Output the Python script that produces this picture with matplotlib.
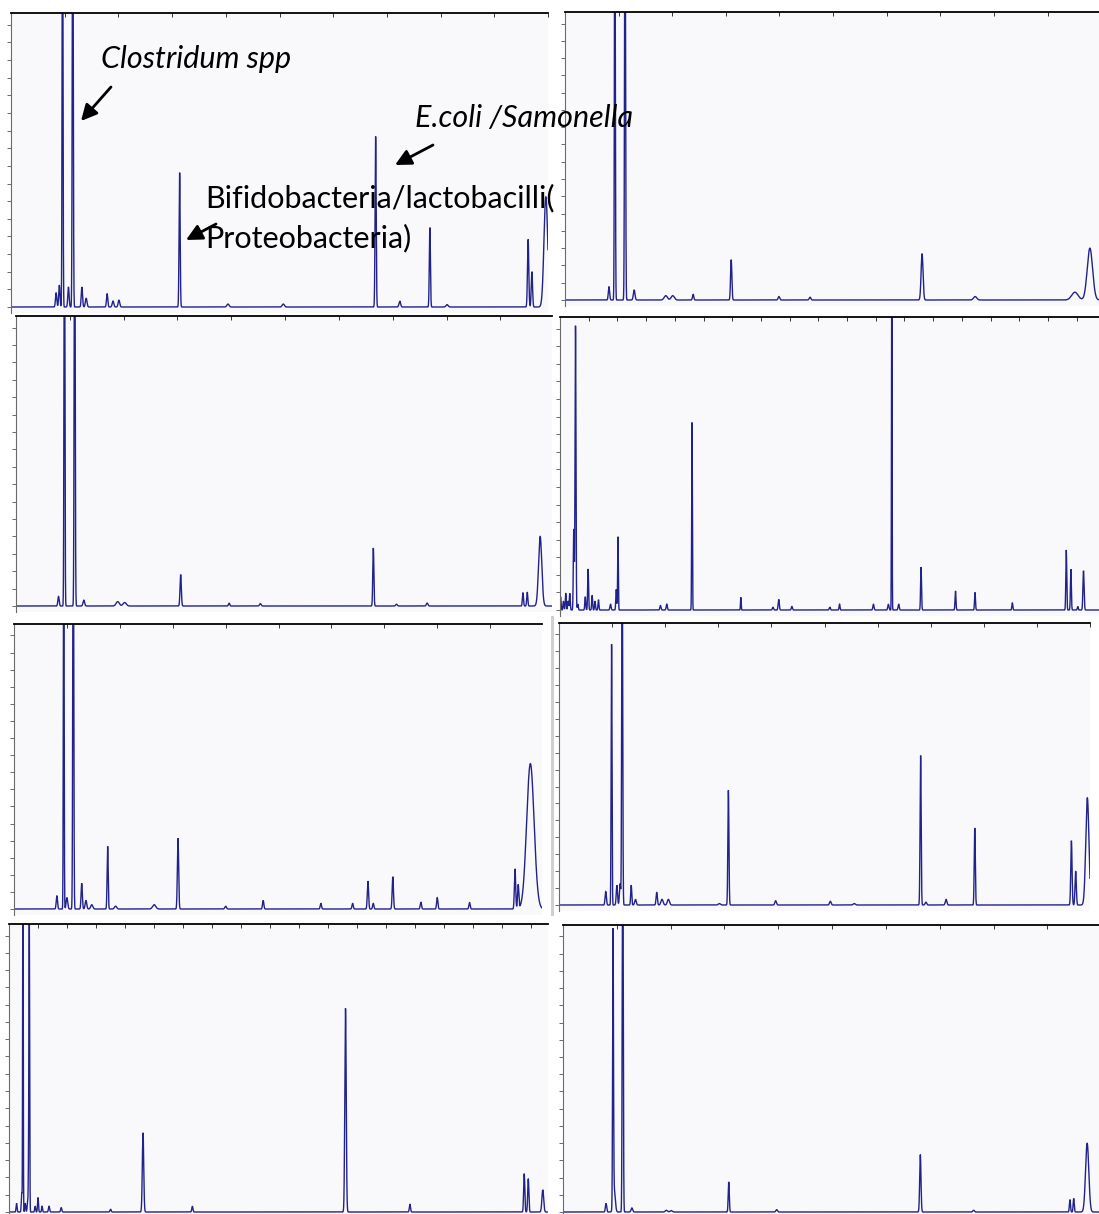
import numpy as np
import matplotlib.pyplot as plt
from matplotlib.ticker import MultipleLocator, NullFormatter
from matplotlib.patches import Rectangle
from matplotlib.text import Annotation

# Peak tables (retention time in min,
# relative height, peak sigma in min). Heights above 1 run off the top.
rt_1 = [0.84, 0.90, 0.96, 1.07, 1.15, 1.32, 1.40, 1.79, 1.90, 2.01, 3.14, 4.04, 5.07,
        6.79, 7.24, 7.80, 8.12, 9.63, 9.70, 9.96]
ht_1 = [0.048, 0.074, 1.6, 0.068, 1.6, 0.068, 0.03, 0.045, 0.02, 0.023, 0.457, 0.01, 0.01,
        0.58, 0.02, 0.27, 0.008, 0.23, 0.12, 0.375]
sd_1 = [0.012, 0.012, 0.008, 0.012, 0.009, 0.012, 0.015, 0.012, 0.015, 0.015, 0.010, 0.02, 0.02,
        0.010, 0.015, 0.010, 0.02, 0.012, 0.012, 0.035]

rt_2 = [0.82, 0.93, 1.12, 1.29, 1.88, 2.01, 2.39, 3.10, 3.99, 4.57, 6.66, 7.65, 9.51, 9.79]
ht_2 = [0.046, 1.6, 1.6, 0.035, 0.015, 0.015, 0.02, 0.14, 0.012, 0.01, 0.16, 0.012, 0.027, 0.18]
sd_2 = [0.012, 0.008, 0.009, 0.015, 0.03, 0.03, 0.012, 0.012, 0.015, 0.015, 0.018, 0.03, 0.06, 0.05]

rt_3 = [0.79, 0.90, 1.09, 1.26, 1.89, 2.02, 3.06, 3.96, 4.54, 6.64, 7.07, 7.64, 9.42, 9.50, 9.74]
ht_3 = [0.033, 1.6, 1.6, 0.02, 0.015, 0.012, 0.108, 0.01, 0.008, 0.20, 0.006, 0.01, 0.046, 0.048, 0.24]
sd_3 = [0.012, 0.008, 0.009, 0.015, 0.03, 0.03, 0.012, 0.012, 0.015, 0.010, 0.015, 0.015, 0.010, 0.010, 0.03]

rt_4 = [0.01, 0.06, 0.10, 0.14, 0.17, 0.24, 0.27, 0.31, 0.44, 0.49, 0.56, 0.61, 0.67, 0.88,
        0.98, 1.01, 1.75, 1.86, 2.30, 3.15, 3.71, 3.81, 4.04, 4.70, 4.87, 5.46, 5.72, 5.78,
        5.90, 6.29, 6.89, 7.23, 7.88, 8.82, 8.90, 9.02, 9.12]
ht_4 = [0.045, 0.03, 0.057, 0.03, 0.057, 0.276, 0.97, 0.02, 0.045, 0.14, 0.05, 0.03, 0.035, 0.02,
        0.07, 0.25, 0.015, 0.02, 0.64, 0.043, 0.01, 0.036, 0.012, 0.01, 0.02, 0.02, 0.02, 1.3,
        0.02, 0.146, 0.065, 0.06, 0.025, 0.205, 0.139, 0.012, 0.134]
sd_4 = [0.008, 0.008, 0.008, 0.008, 0.008, 0.008, 0.008, 0.008, 0.008, 0.008, 0.008, 0.008, 0.008, 0.01,
        0.008, 0.006, 0.01, 0.01, 0.006, 0.006, 0.01, 0.01, 0.01, 0.01, 0.008, 0.01, 0.01, 0.005,
        0.01, 0.008, 0.008, 0.008, 0.008, 0.008, 0.008, 0.008, 0.01]

rt_5 = [0.81, 0.94, 1.00, 1.12, 1.28, 1.36, 1.47, 1.77, 1.92, 2.65, 3.10, 4.00, 4.71, 5.80,
        6.40, 6.69, 6.79, 7.16, 7.69, 8.00, 8.61, 9.47, 9.53, 9.76]
ht_5 = [0.046, 1.6, 0.04, 1.6, 0.09, 0.03, 0.015, 0.22, 0.01, 0.015, 0.248, 0.01, 0.03, 0.02,
        0.02, 0.098, 0.02, 0.113, 0.024, 0.04, 0.023, 0.14, 0.084, 0.51]
sd_5 = [0.012, 0.007, 0.015, 0.009, 0.012, 0.015, 0.02, 0.010, 0.02, 0.03, 0.012, 0.015, 0.012, 0.012,
        0.012, 0.012, 0.012, 0.012, 0.012, 0.012, 0.012, 0.012, 0.012, 0.07]

rt_6 = [0.88, 0.99, 1.09, 1.15, 1.19, 1.36, 1.44, 1.84, 1.94, 2.06, 3.02, 3.19, 4.08, 5.11,
        5.56, 6.81, 6.91, 7.29, 7.83, 9.65, 9.73, 9.95]
ht_6 = [0.048, 0.925, 0.07, 0.075, 1.4, 0.07, 0.02, 0.045, 0.02, 0.02, 0.005, 0.407, 0.015, 0.013,
        0.005, 0.53, 0.01, 0.02, 0.273, 0.228, 0.12, 0.38]
sd_6 = [0.012, 0.008, 0.012, 0.012, 0.009, 0.010, 0.015, 0.012, 0.02, 0.02, 0.02, 0.010, 0.015, 0.015,
        0.02, 0.010, 0.015, 0.015, 0.010, 0.012, 0.012, 0.03]

rt_7 = [0.13, 0.22, 0.24, 0.28, 0.32, 0.34, 0.35, 0.45, 0.50, 0.57, 0.69, 0.90, 1.75, 2.31,
        3.16, 5.80, 6.91, 8.88, 8.95, 9.20]
ht_7 = [0.03, 0.066, 1.4, 0.03, 0.03, 0.196, 0.96, 0.02, 0.05, 0.02, 0.02, 0.015, 0.01, 0.275,
        0.02, 0.707, 0.027, 0.133, 0.115, 0.077]
sd_7 = [0.008, 0.008, 0.005, 0.008, 0.008, 0.007, 0.006, 0.008, 0.008, 0.008, 0.01, 0.01, 0.01, 0.012,
        0.01, 0.012, 0.01, 0.01, 0.01, 0.015]

rt_8 = [0.80, 0.93, 0.95, 1.11, 1.28, 1.92, 2.01, 3.08, 3.97, 6.64, 7.63, 9.42, 9.49, 9.74]
ht_8 = [0.03, 0.94, 0.08, 1.4, 0.014, 0.006, 0.005, 0.105, 0.008, 0.2, 0.006, 0.043, 0.047, 0.24]
sd_8 = [0.012, 0.008, 0.02, 0.009, 0.015, 0.02, 0.02, 0.010, 0.015, 0.012, 0.015, 0.010, 0.010, 0.03]

# run length (min) shown in each chromatogram and its time-axis tick step
run_end = [10.0, 9.96, 9.96, 9.39, 9.98, 10.0, 9.29, 9.96]
tick_step = [1.0, 1.0, 1.0, 0.5, 1.0, 1.0, 0.5, 1.0]

peaks = [(rt_1, ht_1, sd_1), (rt_2, ht_2, sd_2), (rt_3, ht_3, sd_3), (rt_4, ht_4, sd_4),
         (rt_5, ht_5, sd_5), (rt_6, ht_6, sd_6), (rt_7, ht_7, sd_7), (rt_8, ht_8, sd_8)]

W, H = 1099, 1214
# panel frames in pixels: left, right, top spine, baseline
frames = [(11, 548, 13, 307), (565, 1099, 12, 300),
          (16, 552, 316, 606), (560, 1099, 317, 610),
          (14, 542, 624, 909), (559, 1090, 623, 905),
          (9, 548, 924, 1212), (563, 1099, 925, 1212)]

TRACE = '#22228c'
PANEL_BG = '#f9f9fb'

fig = plt.figure(figsize=(W / 100, H / 100), dpi=100)
fig.patch.set_facecolor('white')


def trace(t, rts, hts, sds):
    y = np.zeros_like(t)
    for r, h, s in zip(rts, hts, sds):
        y += h * np.exp(-0.5 * ((t - r) / s) ** 2)
    return y


for (x0, x1, top, base), (rts, hts, sds), tend, step in zip(frames, peaks, run_end, tick_step):
    pad = 6
    ax = fig.add_axes([x0 / W, 1 - (base + pad) / H, (x1 - x0) / W, (base + pad - top) / H])
    ax.set_facecolor(PANEL_BG)
    t = np.linspace(0, tend, 16000)
    ax.plot(t, trace(t, rts, hts, sds), color=TRACE, lw=1.0, solid_joinstyle='miter')
    ax.set_xlim(0, tend)
    ax.set_ylim(-pad / (base - top), 1.0)

    for side in ('right', 'bottom'):
        ax.spines[side].set_visible(False)
    ax.spines['top'].set_color('black')
    ax.spines['top'].set_linewidth(1.3)
    ax.spines['left'].set_color('#6a6a6a')
    ax.spines['left'].set_linewidth(0.8)

    ax.xaxis.set_ticks_position('top')
    ax.xaxis.set_major_locator(MultipleLocator(step))
    ax.yaxis.set_major_locator(MultipleLocator(0.06))
    ax.xaxis.set_major_formatter(NullFormatter())
    ax.yaxis.set_major_formatter(NullFormatter())
    ax.tick_params(axis='x', direction='in', length=3, width=0.7, color='#333333')
    ax.tick_params(axis='y', direction='out', length=3, width=0.7, color='#6a6a6a')

# grey screen border left of the sixth chromatogram
fig.add_artist(Rectangle((551 / W, 1 - 916 / H), 3 / W, 300 / H, transform=fig.transFigure,
                         facecolor='#cfcfcf', edgecolor='none'))


def fx(px, py):
    return px / W, 1 - py / H


label_font = dict(family='Lato', fontsize=22, color='black', zorder=10)
fig.text(*fx(101, 68), 'Clostridum spp', style='italic', **label_font)
fig.text(*fx(415, 127), 'E.coli /Samonella', style='italic', **label_font)
fig.text(*fx(205, 207), 'Bifidobacteria/lactobacilli(', **label_font)
fig.text(*fx(205, 247), 'Proteobacteria)', **label_font)

arrow = dict(arrowstyle='-|>', color='black', lw=2.0, mutation_scale=24, shrinkA=0, shrinkB=0)
for start, tip in [((111, 87), (81, 121)), ((433, 145), (395, 165)), ((216, 224), (186, 240))]:
    fig.add_artist(Annotation('', xy=fx(*tip), xytext=fx(*start),
                              xycoords='figure fraction', textcoords='figure fraction',
                              arrowprops=arrow, zorder=10))

fig.savefig('out.png', dpi=100, facecolor='white')
